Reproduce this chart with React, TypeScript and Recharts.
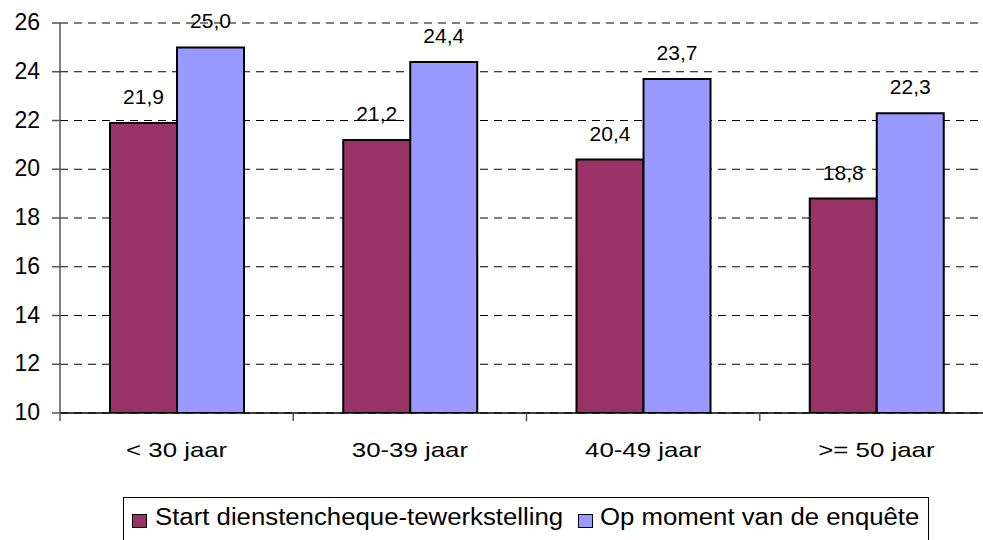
import React from "react";
import { BarChart, Bar, XAxis, YAxis, CartesianGrid, LabelList } from "recharts";

const categories = ["< 30 jaar", "30-39 jaar", "40-49 jaar", ">= 50 jaar"];
const startValues = [21.9, 21.2, 20.4, 18.8];
const enqueteValues = [25.0, 24.4, 23.7, 22.3];
const yTicks = [10, 12, 14, 16, 18, 20, 22, 24, 26];
const seriesNames = ["Start dienstencheque-tewerkstelling", "Op moment van de enquête"];
const seriesColors = ["#993366", "#9999FF"];

const data = categories.map((c, i) => ({ cat: c, start: startValues[i], enquete: enqueteValues[i] }));

const FONT = "'Liberation Sans', Arial, sans-serif";
const CHART_W = 1000;
const PLOT_LEFT = 60;
const PLOT_RIGHT_MARGIN = 7;
const BAND = (CHART_W - PLOT_LEFT - PLOT_RIGHT_MARGIN) / categories.length;

const fmt = (v: any) => Number(v).toFixed(1).replace(".", ",");

// category labels sit at band centres, tick marks at band edges
function XTick(props: any) {
  const { x, y, payload } = props;
  const bx = x - BAND / 2;
  return (
    <g>
      <line x1={bx} y1={y} x2={bx} y2={y + 8} stroke="#555" strokeWidth={1.5} />
      <text
        transform={`translate(${x},${y + 44}) scale(1.23,1)`}
        x={0}
        y={0}
        textAnchor="middle"
        fontSize={21}
        fontFamily={FONT}
        fill="#000"
      >
        {payload.value}
      </text>
    </g>
  );
}

const legendItems = [
  { box: 132, text: 155 },
  { box: 578, text: 600 },
];

export default function App() {
  return (
    <div style={{ position: "absolute", left: 0, top: 0, width: 983, height: 540, overflow: "hidden", background: "#fff" }}>
      <BarChart
        width={CHART_W}
        height={540}
        data={data}
        margin={{ top: 23, right: PLOT_RIGHT_MARGIN, left: 0, bottom: 67 }}
        barGap={0}
        barSize={67}
      >
        <CartesianGrid vertical={false} stroke="#000" strokeDasharray="8 6" strokeWidth={1} />
        <XAxis
          dataKey="cat"
          axisLine={{ stroke: "#000", strokeWidth: 1.5 }}
          tickLine={false}
          tickSize={0}
          tickMargin={0}
          height={60}
          tick={<XTick />}
          interval={0}
        />
        <YAxis
          domain={[10, 26]}
          ticks={yTicks}
          width={PLOT_LEFT}
          axisLine={{ stroke: "#555", strokeWidth: 1.5 }}
          tickLine={{ stroke: "#555", strokeWidth: 1.5 }}
          tickSize={8}
          tickMargin={12}
          tick={{ fontSize: 23, fontFamily: FONT, fill: "#000", dy: -1 }}
          allowDataOverflow
        />
        <Bar dataKey="start" fill={seriesColors[0]} stroke="#000" strokeWidth={2} isAnimationActive={false}>
          <LabelList dataKey="start" position="top" offset={19} formatter={fmt} style={{ fontSize: 21, fontFamily: FONT, fill: "#000" }} />
        </Bar>
        <Bar dataKey="enquete" fill={seriesColors[1]} stroke="#000" strokeWidth={2} isAnimationActive={false}>
          <LabelList dataKey="enquete" position="top" offset={19} formatter={fmt} style={{ fontSize: 21, fontFamily: FONT, fill: "#000" }} />
        </Bar>
      </BarChart>
      <div
        style={{
          position: "absolute",
          left: 123,
          top: 497,
          width: 806,
          height: 60,
          border: "1px solid #000",
          boxSizing: "border-box",
        }}
      />
      {seriesNames.map((n, i) => (
        <React.Fragment key={n}>
          <div
            style={{
              position: "absolute",
              left: legendItems[i].box,
              top: 514,
              width: 13,
              height: 12,
              background: seriesColors[i],
              border: "1px solid #000",
            }}
          />
          <div
            style={{
              position: "absolute",
              left: legendItems[i].text,
              top: 504,
              fontFamily: FONT,
              fontSize: 23,
              lineHeight: "26px",
              color: "#000",
              whiteSpace: "nowrap",
              transform: "scaleX(1.12)",
              transformOrigin: "left center",
            }}
          >
            {n}
          </div>
        </React.Fragment>
      ))}
    </div>
  );
}
